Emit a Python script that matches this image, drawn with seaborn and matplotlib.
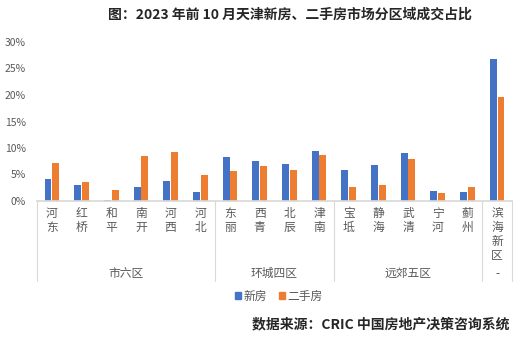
import matplotlib
matplotlib.use("Agg")
import matplotlib.pyplot as plt
import matplotlib.transforms as mtransforms
import pandas as pd
import seaborn as sns

# districts (tick labels) and the region group each one sits in
districts = ["河东", "红桥", "和平", "南开", "河西", "河北",
             "东丽", "西青", "北辰", "津南",
             "宝坻", "静海", "武清", "宁河", "蓟州",
             "滨海新区"]
groups = ["市六区", "环城四区", "远郊五区", "-"]
group_sizes = [6, 4, 5, 1]

# share of transactions, %
new_house = [4.2, 3.0, 0.2, 2.7, 3.8, 1.7,
             8.3, 7.6, 7.0, 9.5,
             5.9, 6.8, 9.1, 1.9, 1.7,
             26.8]
second_house = [7.2, 3.6, 2.1, 8.5, 9.3, 4.9,
                5.7, 6.6, 5.9, 8.7,
                2.6, 3.0, 7.9, 1.5, 2.6,
                19.7]
series = ["新房", "二手房"]
colors = ["#4472C4", "#ED7D31"]

df = pd.DataFrame({
    "district": districts * 2,
    "type": [series[0]] * len(districts) + [series[1]] * len(districts),
    "value": new_house + second_house,
})

sns.set_theme(style="white")
plt.rcParams["font.family"] = ["Noto Sans CJK SC", "DejaVu Sans"]

fig = plt.figure(figsize=(5.25, 3.51), dpi=100)
ax = fig.add_axes([37 / 525, 1 - 201 / 351, 475 / 525, 159 / 351])

sns.barplot(data=df, x="district", y="value", hue="type", palette=colors,
            width=0.52, gap=0.1, ax=ax, legend=False, saturation=1, linewidth=0)

ax.set_xlim(-0.5, len(districts) - 0.5)
ax.set_ylim(0, 30)
ax.set_yticks(range(0, 31, 5))
ax.set_yticklabels([f"{v}%" for v in range(0, 31, 5)], fontsize=7.5, color="#595959")
ax.set_xticks(range(len(districts)))
ax.set_xticklabels(["\n".join(d) for d in districts], fontsize=8.5, color="#595959",
                   linespacing=1.1, va="top")
ax.tick_params(axis="x", length=0, pad=4)
ax.tick_params(axis="y", length=0, pad=8)
ax.set_xlabel("")
ax.set_ylabel("")
for s in ["top", "right", "left"]:
    ax.spines[s].set_visible(False)
ax.spines["bottom"].set_color("#D9D9D9")
ax.grid(False)

# group separators and group names under the tick labels
trans = mtransforms.blended_transform_factory(ax.transData, ax.transAxes)
bounds = [-0.5]
for n in group_sizes:
    bounds.append(bounds[-1] + n)
for b in bounds:
    ax.plot([b, b], [0, -0.50], transform=trans, color="#D9D9D9", lw=0.8, clip_on=False)
for i, g in enumerate(groups):
    mid = (bounds[i] + bounds[i + 1]) / 2
    ax.text(mid, -0.455, g, transform=trans, ha="center", va="center",
            fontsize=8.5, color="#595959")

# legend
handles = [plt.Rectangle((0, 0), 1, 1, color=c) for c in colors]
fig.legend(handles, series, loc="center", bbox_to_anchor=(279 / 525, 1 - 296 / 351),
           ncol=2, frameon=False, fontsize=8.5, handlelength=0.5, handleheight=0.5,
           handletextpad=0.2, columnspacing=1.0, labelcolor="#595959")

fig.text(290 / 525, 1 - 15 / 351, "图：2023 年前 10 月天津新房、二手房市场分区域成交占比",
         ha="center", va="center", fontsize=10, fontweight="bold")
fig.text(510 / 525, 1 - 324 / 351, "数据来源：CRIC 中国房地产决策咨询系统",
         ha="right", va="center", fontsize=10, fontweight="bold")

fig.savefig("out.png", dpi=100)
